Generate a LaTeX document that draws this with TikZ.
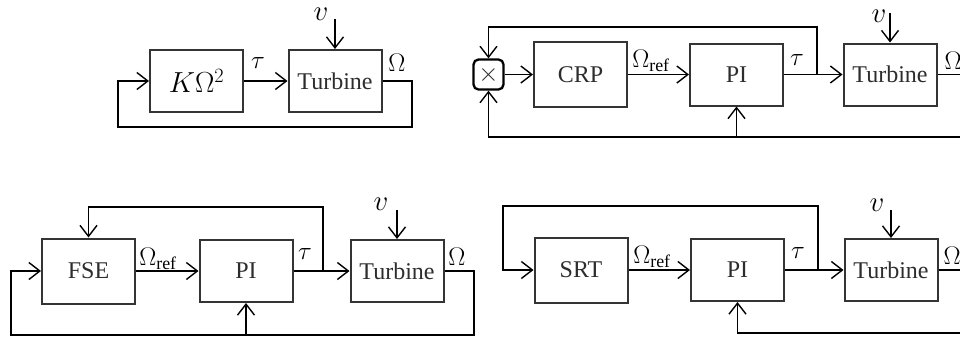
\RequirePackage{fix-cm}
\documentclass[tikz,border=0pt]{standalone}
\usepackage{fontspec}
\setmainfont{Liberation Serif}
\usetikzlibrary{arrows.meta}
\definecolor{boxgray}{RGB}{50,52,54}
\definecolor{textgray}{RGB}{45,45,45}
\tikzset{
  blk/.style={draw=boxgray, line width=2pt, minimum width=93pt, minimum height=62pt,
    text=textgray, font=\fontsize{24}{26}\selectfont, inner sep=0pt},
  blkt/.style={blk, minimum height=65pt},
  mulbox/.style={draw=black, line width=2.3pt, rounded corners=5pt, minimum size=30pt,
    inner sep=0pt, text=textgray, font=\fontsize{26}{28}\selectfont},
  conn/.style={line width=1.4pt, -{Straight Barb[length=11pt,width=17pt,line width=1.4pt]}},
  lab/.style={inner sep=0pt, font=\fontsize{25.5}{27}\selectfont},
  vlab/.style={inner sep=0pt, font=\fontsize{29}{31}\selectfont},
}
\begin{document}
\begin{tikzpicture}[x=1pt,y=-1pt]
\useasboundingbox (0,0) rectangle (960,338);
% ---------- Diagram A ----------
\node[blk, text=black, font=\fontsize{29}{31}\selectfont] (k) at (196.5,81) {$K\Omega^2$};
\node[blk] (ta) at (335,81) {Turbine};
\draw[conn] (k) -- (ta);
\coordinate (va) at (335,19);
\draw[conn] (va) -- (ta.north);
\node[vlab] (vla) at (321,14.5) {$v$};
\node[lab] (taua) at (258,63) {$\tau$};
\node[lab] (oma) at (397,63) {$\Omega$};
\draw[conn] (ta.east) -- (412,81) |- (118,127) |- (k.west);
% ---------- Diagram B ----------
\node[mulbox] (mx) at (488.5,74.5) {$\times$};
\node[blkt] (crp) at (580.5,74.5) {CRP};
\node[blk] (pib) at (736.5,74.5) {PI};
\node[blk] (tb) at (890,74.5) {Turbine};
\draw[conn] (mx) -- (crp);
\draw[conn] (crp) -- (pib);
\draw[conn] (pib) -- (tb);
\coordinate (bb) at (817,74.5);
\draw[conn] (bb) -- (817,27) -| (mx.north);
\draw[conn] (tb.east) -- (967,74.5) |- (488.5,137) -- (mx.south);
\draw[conn] (736.5,137) -- (pib.south);
\coordinate (vb) at (890,13);
\draw[conn] (vb) -- (tb.north);
\node[vlab] (vlb) at (879,16.5) {$v$};
\node[lab] (omrb) at (651,61) {$\Omega_{\mathrm{ref}}$};
\node[lab] (taub) at (797,60) {$\tau$};
\node[lab] (omb) at (953,61) {$\Omega$};
% ---------- Diagram C ----------
\node[blkt] (fse) at (88.5,271) {FSE};
\node[blk] (pic) at (246,271) {PI};
\node[blk] (tc) at (397,271) {Turbine};
\draw[conn] (fse) -- (pic);
\draw[conn] (pic) -- (tc);
\coordinate (bc) at (323,271);
\draw[conn] (bc) -- (323,207) -| (fse.north);
\draw[conn] (tc.east) -- (474,271) |- (11,335) |- (fse.west);
\draw[conn] (246,335) -- (pic.south);
\coordinate (vc) at (397,210);
\draw[conn] (vc) -- (tc.north);
\node[vlab] (vlc) at (381,204) {$v$};
\node[lab] (omrc) at (158,259) {$\Omega_{\mathrm{ref}}$};
\node[lab] (tauc) at (305,254) {$\tau$};
\node[lab] (omc) at (457,257) {$\Omega$};
% ---------- Diagram D ----------
\node[blkt] (srt) at (581,270) {SRT};
\node[blk] (pid) at (737.5,270) {PI};
\node[blk] (td) at (891,270) {Turbine};
\draw[conn] (srt) -- (pid);
\draw[conn] (pid) -- (td);
\coordinate (bd) at (818,270);
\draw[conn] (bd) |- (503,206) |- (srt.west);
\draw[conn] (td.east) -- (968,270) |- (737.5,333) -- (pid.south);
\coordinate (vd) at (891,210);
\draw[conn] (vd) -- (td.north);
\node[vlab] (vld) at (877,205) {$v$};
\node[lab] (omrd) at (652,257) {$\Omega_{\mathrm{ref}}$};
\node[lab] (taud) at (798,253) {$\tau$};
\node[lab] (omd) at (952,256) {$\Omega$};
\end{tikzpicture}
\end{document}
